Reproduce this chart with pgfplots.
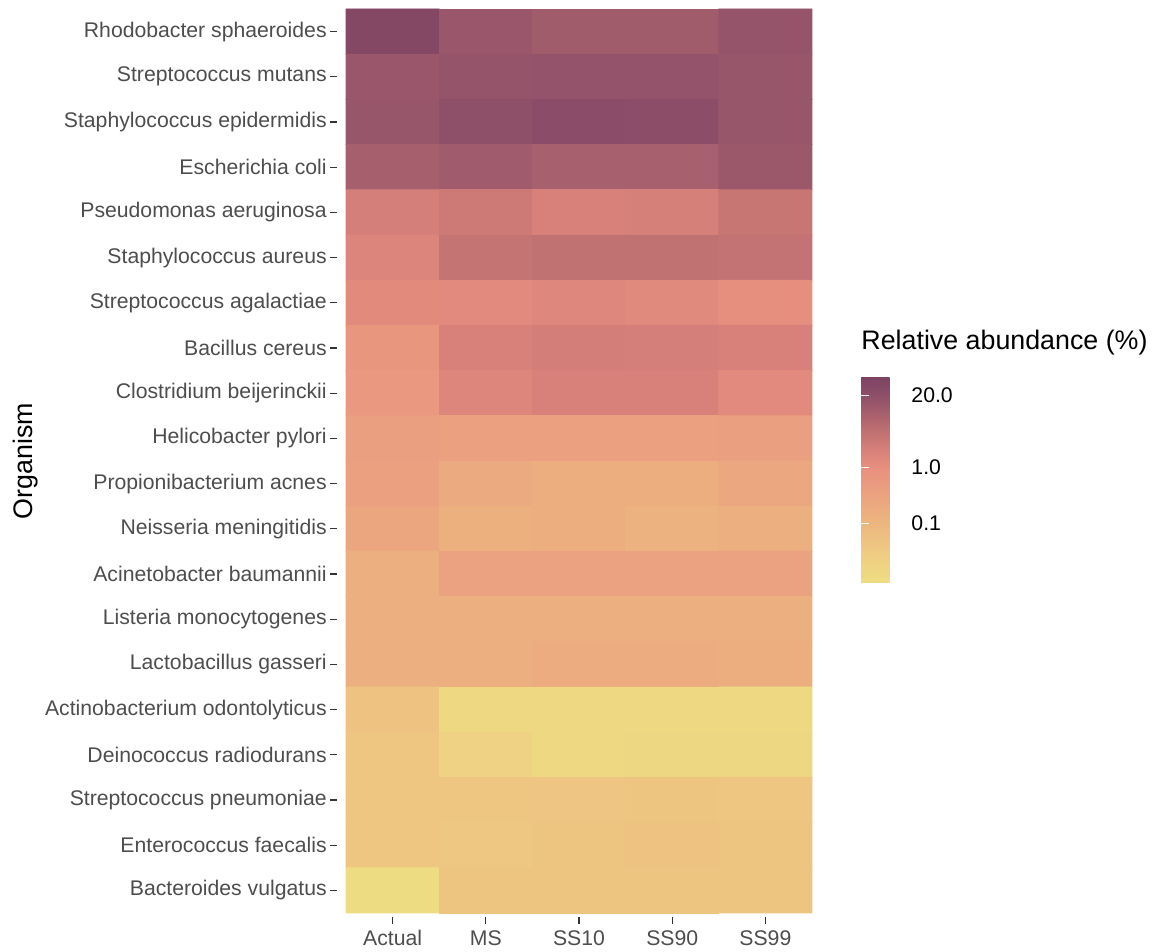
\documentclass[border=0pt]{standalone}
\usepackage{fontspec}
\setmainfont{Liberation Sans}
\usepackage{pgfplots}
\usepackage{pgfplotstable}
\pgfplotsset{compat=1.18}
\usetikzlibrary{calc}
\definecolor{gthirty}{RGB}{77,77,77}
\definecolor{gtwenty}{RGB}{51,51,51}

\pgfplotstableread{
x y v
0 19 31.6
1 19 14.1
2 19 11.2
3 19 11.2
4 19 15.8
0 18 14.1
1 18 15.8
2 18 16.6
3 18 16.6
4 18 14.8
0 17 14.8
1 17 20.0
2 17 24.0
3 17 22.9
4 17 14.8
0 16 10.0
1 16 11.7
2 16 9.5
3 16 9.5
4 16 13.5
0 15 2.24
1 15 2.82
2 15 2.0
3 15 2.09
4 15 3.55
0 14 1.66
1 14 3.8
2 14 4.47
3 14 4.47
4 14 3.98
0 13 1.26
1 13 1.32
2 13 1.51
3 13 1.41
4 13 1.05
0 12 0.71
1 12 2.0
2 12 2.34
3 12 2.24
4 12 2.0
0 11 0.56
1 11 1.58
2 11 2.0
3 11 2.0
4 11 1.32
0 10 0.40
1 10 0.38
2 10 0.38
3 10 0.38
4 10 0.40
0 9 0.355
1 9 0.20
2 9 0.158
3 9 0.166
4 9 0.25
0 8 0.26
1 8 0.14
2 8 0.158
3 8 0.126
4 8 0.15
0 7 0.15
1 7 0.33
2 7 0.33
3 7 0.33
4 7 0.33
0 6 0.15
1 6 0.15
2 6 0.15
3 6 0.15
4 6 0.15
0 5 0.15
1 5 0.15
2 5 0.178
3 5 0.178
4 5 0.16
0 4 0.05
1 4 0.011
2 4 0.011
3 4 0.011
4 4 0.011
0 3 0.04
1 3 0.018
2 3 0.011
3 3 0.013
4 3 0.0126
0 2 0.04
1 2 0.04
2 2 0.042
3 2 0.045
4 2 0.04
0 1 0.04
1 1 0.038
2 1 0.045
3 1 0.047
4 1 0.045
0 0 0.0089
1 0 0.045
2 0 0.045
3 0 0.045
4 0 0.045
}\abund

\begin{document}
\begin{tikzpicture}
\begin{axis}[
  name=ax,
  scale only axis,
  width=242.3pt, height=456.5pt,
  xmin=-0.6, xmax=4.6, ymin=-0.6, ymax=19.6,
  axis lines*=left,
  axis line style={draw=none},
  tick align=outside,
  major tick length=3.3pt,
  tick style={gtwenty, line width=0.6pt},
  xtick={0,1,2,3,4},
  xticklabels={Actual,MS,SS10,SS90,SS99},
  ytick={0,...,19},
  yticklabels={Bacteroides vulgatus,Enterococcus faecalis,Streptococcus pneumoniae,Deinococcus radiodurans,Actinobacterium odontolyticus,Lactobacillus gasseri,Listeria monocytogenes,Acinetobacter baumannii,Neisseria meningitidis,Propionibacterium acnes,Helicobacter pylori,Clostridium beijerinckii,Bacillus cereus,Streptococcus agalactiae,Staphylococcus aureus,Pseudomonas aeruginosa,Escherichia coli,Staphylococcus epidermidis,Streptococcus mutans,Rhodobacter sphaeroides},
  ticklabel style={font=\fontsize{10.6pt}{12pt}\selectfont, text=gthirty},
  yticklabel style={inner sep=0pt, xshift=-1.5pt},
  xticklabel style={inner sep=0pt, yshift=-3pt},
  ylabel={Organism},
  ylabel style={font=\fontsize{13.4pt}{15pt}\selectfont},
  colormap={abund}{
    rgb255(0cm)=(238,221,130);
    rgb255(0.5cm)=(239,205,131);
    rgb255(1.08cm)=(236,182,127);
    rgb255(1.6cm)=(235,162,128);
    rgb255(2.08cm)=(232,144,127);
    rgb255(2.4cm)=(214,128,122);
    rgb255(2.73cm)=(192,113,114);
    rgb255(3.38cm)=(142,79,105);
    rgb255(3.71cm)=(125,67,99)},
  point meta min=-2.08, point meta max=1.63,
  colorbar right,
  colorbar style={
    scale only axis,
    at={(parent axis.east)}, anchor=west, xshift=11.35pt, yshift=-9.5pt,
    width=20.5pt, height=103pt,
    axis line style={draw=none},
    ytick={-1,0,1.30103},
    yticklabels={0.1,1.0,20.0},
    ytick pos=both,
    yticklabel pos=right,
    tick align=inside,
    major tick length=4pt,
    tick style={white, line width=0.5pt},
    yticklabel style={font=\fontsize{10.6pt}{12pt}\selectfont, text=black, inner sep=0pt, xshift=4.5pt},
    title={Relative abundance (\%)},
    title style={at={(0,1)}, anchor=base west, inner sep=0pt, yshift=7.5pt, font=\fontsize{13.4pt}{15pt}\selectfont},
  },
]
\addplot[matrix plot*, mesh/cols=5, mesh/rows=20, point meta={log10(\thisrow{v})}] table[x=x, y=y] {\abund};
\end{axis}
\pgfresetboundingbox
\path ($(ax.south west)+(-168.35pt,-16.75pt)$) rectangle ($(ax.north east)+(166.35pt,2.25pt)$);
\end{tikzpicture}
\end{document}
